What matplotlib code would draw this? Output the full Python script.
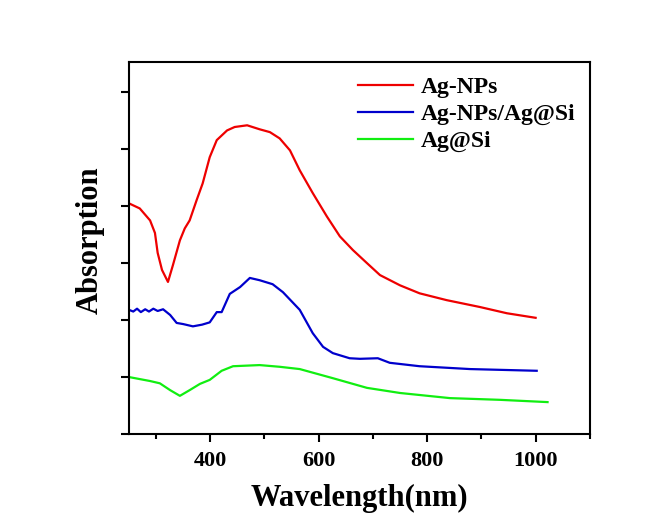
import matplotlib
import matplotlib.pyplot as plt
from matplotlib.ticker import MultipleLocator, NullFormatter

matplotlib.use("Agg")

plt.rcParams["font.family"] = ["Liberation Serif", "DejaVu Serif"]
plt.rcParams["font.weight"] = "bold"

# Ag-NPs
wl_ag = [250, 270, 289, 298, 303, 311, 322, 331, 344, 353, 362, 375, 386, 399,
         412, 431, 445, 468, 491, 510, 528, 547, 565, 589, 615, 639, 663, 689,
         713, 750, 786, 836, 897, 947, 1000]
abs_ag = [4.05, 3.96, 3.75, 3.53, 3.18, 2.88, 2.67, 2.96, 3.40, 3.61, 3.75, 4.11,
          4.40, 4.86, 5.16, 5.33, 5.39, 5.42, 5.35, 5.30, 5.19, 4.98, 4.63, 4.23,
          3.82, 3.47, 3.23, 3.00, 2.79, 2.61, 2.47, 2.35, 2.23, 2.12, 2.04]

# Ag-NPs/Ag@Si
wl_mix = [250, 258, 265, 272, 280, 287, 295, 303, 313, 326, 338, 350, 368, 385,
          399, 412, 421, 436, 455, 473, 491, 515, 534, 565, 589, 608, 626, 657,
          676, 709, 731, 786, 879, 1002]
abs_mix = [2.18, 2.15, 2.20, 2.14, 2.19, 2.15, 2.20, 2.16, 2.19, 2.09, 1.95, 1.93,
           1.89, 1.92, 1.96, 2.14, 2.14, 2.46, 2.58, 2.74, 2.70, 2.63, 2.49, 2.18,
           1.77, 1.53, 1.42, 1.33, 1.32, 1.33, 1.25, 1.19, 1.14, 1.11]

# Ag@Si
wl_si = [250, 289, 307, 326, 344, 362, 381, 399, 421, 442, 491, 528, 565, 626,
         689, 750, 842, 934, 1022]
abs_si = [1.00, 0.93, 0.89, 0.77, 0.67, 0.77, 0.88, 0.95, 1.11, 1.19, 1.21, 1.18,
          1.14, 0.98, 0.81, 0.72, 0.63, 0.60, 0.56]

fig = plt.figure(figsize=(6.68, 5.13), dpi=100)
ax = fig.add_axes([0.193, 0.154, 0.690, 0.725])

ax.plot(wl_ag, abs_ag, color="#ee0000", linewidth=1.6, label="Ag-NPs")
ax.plot(wl_mix, abs_mix, color="#0000cc", linewidth=1.6, label="Ag-NPs/Ag@Si")
ax.plot(wl_si, abs_si, color="#11ee11", linewidth=1.6, label="Ag@Si")

ax.set_xlim(250, 1100)
ax.set_ylim(0, 6.53)

ax.xaxis.set_major_locator(MultipleLocator(200))
ax.xaxis.set_minor_locator(MultipleLocator(100))
ax.yaxis.set_major_locator(MultipleLocator(1))
ax.yaxis.set_major_formatter(NullFormatter())

ax.tick_params(axis="both", which="major", direction="out", length=6, width=1.5,
               labelsize=16, pad=6)
ax.tick_params(axis="x", which="minor", direction="out", length=3.5, width=1.5)
for lab in ax.get_xticklabels():
    lab.set_fontweight("bold")

for sp in ax.spines.values():
    sp.set_linewidth(1.5)

ax.set_xlabel("Wavelength(nm)", fontsize=22, fontweight="bold")
ax.set_ylabel("Absorption", fontsize=22, fontweight="bold")
# 軸ラベル位置を参照画像に合わせる
ax.xaxis.set_label_coords(0.5, -0.133)
ax.yaxis.set_label_coords(-0.053, 0.52)

leg = ax.legend(loc="upper left", bbox_to_anchor=(0.467, 1.0), frameon=False,
                fontsize=17, handlelength=2.3, handletextpad=0.35,
                labelspacing=0.24, borderaxespad=0.2)
for t in leg.get_texts():
    t.set_fontweight("bold")

fig.savefig("out.png", dpi=100, facecolor="white")
